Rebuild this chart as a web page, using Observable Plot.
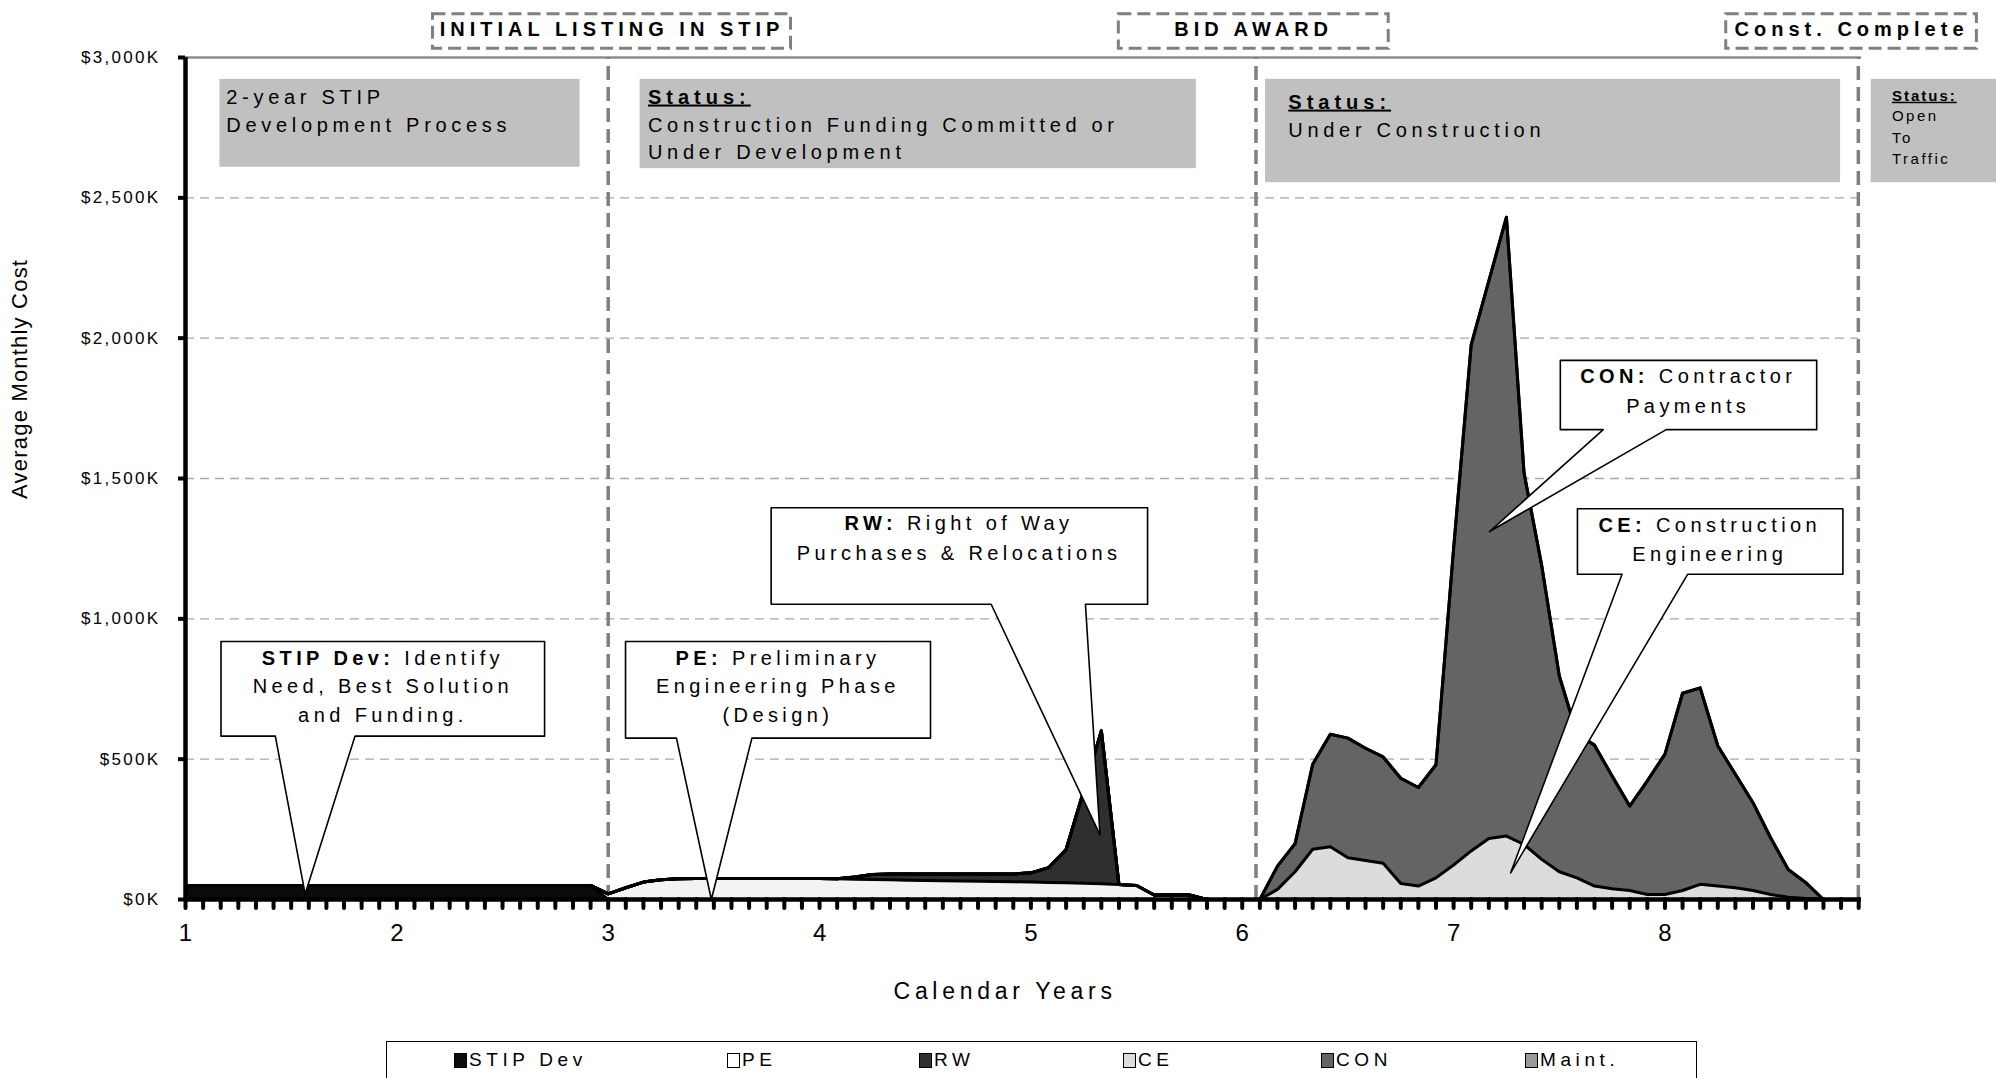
<!DOCTYPE html>
<html>
<head>
<meta charset="utf-8">
<script src="https://cdn.jsdelivr.net/npm/d3@7"></script>
<script src="https://cdn.jsdelivr.net/npm/@observablehq/plot@0.6"></script>
<style>
  html, body { margin: 0; padding: 0; background: #fff; }
  body { width: 1996px; height: 1078px; overflow: hidden; font-family: "Liberation Sans", Arial, sans-serif; }
  #legend { position: relative; width: 1996px; height: 37px; }
  #legend .box { position: absolute; left: 386px; top: 0; width: 1311px; height: 60px; border: 1.5px solid #000; box-sizing: border-box; }
  #legend .item { position: absolute; top: 8px; display: flex; align-items: center; font-size: 19px; letter-spacing: 4.6px; color: #000; }
  #legend .sw { width: 13px; height: 15px; border: 1.5px solid #000; margin-right: 2px; box-sizing: border-box; }
</style>
</head>
<body>
<div id="chart"></div>
<div id="legend"></div>
<script>
// ---------------- DATA (monthly values, $K) ----------------
const seriesNames  = ["STIP Dev", "PE", "RW", "CE", "CON", "Maint."];
const seriesColors = ["#0b0b0b", "#f3f3f3", "#2f2f2f", "#dcdcdc", "#646464", "#9a9a9a"];

// month index 0 = start of calendar year 1; 96 months shown (years 1 .. 8.92)
const monthCount = 96;

const stipDevStart = 0;
const stipDev = [50,50,50,50,50,50,50,50,50,50,50,50,50,50,50,50,50,50,50,50,50,50,50,50,0];

const peStart = 24;
const pe = [20,42,62,70,74,75,75,75,75,75,75,75,75,74,72,71,70,69,68,67,66,65,64,63,62,61,60,58,56,53,50,16,16,16,0];

const rwStart = 37;
const rw = [0,8,18,21,22,23,24,25,26,27,28,33,52,118,330,545,0];

const ceStart = 61;
const ce = [0,36,99,179,188,149,139,129,57,48,77,123,173,217,226,196,143,99,77,48,38,32,18,18,32,54,48,42,32,18,8,4,0];

const conStart = 61;
const con = [0,83,100,303,401,426,400,379,375,351,403,1127,1804,1987,2205,1324,1048,698,513,502,402,301,405,500,703,700,500,404,313,202,99,56,0];

const maintStart = 0;
const maint = []; // no maintenance costs within the period shown

const yTicks = [0, 500, 1000, 1500, 2000, 2500, 3000];
const gridValues = [500, 1000, 1500, 2000, 2500];
const yearLabels = [1, 2, 3, 4, 5, 6, 7, 8];

// milestones (years)
const milestoneX = [3.0, 6.065, 8.915];
const milestoneLabels = ["INITIAL LISTING IN STIP", "BID AWARD", "Const. Complete"];

// ---------------- build table ----------------
const seriesArrays = [stipDev, pe, rw, ce, con, maint];
const seriesStarts = [stipDevStart, peStart, rwStart, ceStart, conStart, maintStart];
const table = [];
seriesNames.forEach((name, s) => {
  const arr = seriesArrays[s], st = seriesStarts[s];
  for (let m = 0; m < monthCount; m++) {
    const i = m - st;
    const v = (i >= 0 && i < arr.length) ? arr[i] : 0;
    table.push({series: name, x: 1 + m / 12, value: v});
  }
});
const monthTicks = d3.range(monthCount).map(m => 1 + m / 12);

// ---------------- annotations (data coordinates: years, $K) ----------------
const phaseBoxes = [
  {x1: 1.163, x2: 2.867, y1: 2609, y2: 2922},
  {x1: 3.151, x2: 5.783, y1: 2604, y2: 2922},
  {x1: 6.110, x2: 8.831, y1: 2554, y2: 2922},
  {x1: 8.976, x2: 9.580, y1: 2554, y2: 2922}
];
const phaseLines = [
  {x: 1.193, y: 2834, text: "2-year STIP"},
  {x: 1.193, y: 2734, text: "Development Process"},
  {x: 3.188, y: 2733, text: "Construction Funding Committed or"},
  {x: 3.188, y: 2637, text: "Under Development"},
  {x: 6.218, y: 2715, text: "Under Construction"}
];
const statusLines = [
  {x: 3.188, y: 2836, text: "Status:"},
  {x: 6.218, y: 2818, text: "Status:"}
];
const openStatus = [{x: 9.074, y: 2846, text: "Status:"}];
const openLines = [
  {x: 9.074, y: 2774, text: "Open"},
  {x: 9.074, y: 2697, text: "To"},
  {x: 9.074, y: 2620, text: "Traffic"}
];
const milestoneBoxes = [
  {x1: 2.171, x2: 3.865, y1: 3031, y2: 3154, tx: 3.018, label: milestoneLabels[0]},
  {x1: 5.416, x2: 6.693, y1: 3031, y2: 3154, tx: 6.054, label: milestoneLabels[1]},
  {x1: 8.290, x2: 9.476, y1: 3031, y2: 3154, tx: 8.883, label: milestoneLabels[2]}
];
const callouts = [
  {id: "stip", x1: 1.168, x2: 2.699, top: 919, bottom: 582, b1: 1.425, b2: 1.802, tx: 1.566, ty: 20},
  {id: "pe",   x1: 3.082, x2: 4.525, top: 919, bottom: 575, b1: 3.323, b2: 3.680, tx: 3.488, ty: 0},
  {id: "rw",   x1: 3.771, x2: 5.552, top: 1396, bottom: 1052, b1: 4.812, b2: 5.258, tx: 5.327, ty: 230},
  {id: "con",  x1: 7.505, x2: 8.718, top: 1921, bottom: 1674, b1: 7.708, b2: 8.006, tx: 7.170, ty: 1311},
  {id: "ce",   x1: 7.586, x2: 8.842, top: 1392, bottom: 1159, b1: 7.797, b2: 8.108, tx: 7.270, ty: 95}
];
const calloutPoly = callouts.flatMap(c => [
  {id: c.id, x: c.x1, y: c.top}, {id: c.id, x: c.x2, y: c.top}, {id: c.id, x: c.x2, y: c.bottom},
  {id: c.id, x: c.b2, y: c.bottom}, {id: c.id, x: c.tx, y: c.ty}, {id: c.id, x: c.b1, y: c.bottom},
  {id: c.id, x: c.x1, y: c.bottom}
]);
const calloutLines = [
  {x: 1.934, y: 836, text: "STIP Dev: Identify"},
  {x: 1.934, y: 735, text: "Need, Best Solution"},
  {x: 1.934, y: 631, text: "and Funding."},
  {x: 3.803, y: 836, text: "PE: Preliminary"},
  {x: 3.803, y: 735, text: "Engineering Phase"},
  {x: 3.803, y: 631, text: "(Design)"},
  {x: 4.660, y: 1316, text: "RW: Right of Way"},
  {x: 4.660, y: 1211, text: "Purchases & Relocations"},
  {x: 8.110, y: 1840, text: "CON: Contractor"},
  {x: 8.110, y: 1735, text: "Payments"},
  {x: 8.212, y: 1311, text: "CE: Construction"},
  {x: 8.212, y: 1207, text: "Engineering"}
];

const fmtK = d => "$" + d3.format(",")(d) + "K";
const FONT = '"Liberation Sans", Arial, sans-serif';

const plot = Plot.plot({
  width: 1996,
  height: 1041,
  marginLeft: 185,
  marginRight: 135,
  marginTop: 57,
  marginBottom: 142,
  x: {domain: [1, 8.93]},
  y: {domain: [0, 3000]},
  color: {domain: seriesNames, range: seriesColors},
  style: {fontFamily: FONT, background: "#fff", overflow: "visible", color: "#000"},
  marks: [
    Plot.rect(phaseBoxes, {x1: "x1", x2: "x2", y1: "y1", y2: "y2", fill: "#c0c0c0"}),
    Plot.ruleY(gridValues, {x1: 1, x2: 8.915, stroke: "#a8a8a8", strokeWidth: 1.3, strokeDasharray: "9,6"}),
    Plot.ruleY([3000], {x1: 1, x2: 8.93, stroke: "#8c8c8c", strokeWidth: 2.5}),
    Plot.ruleX(milestoneX, {y1: 0, y2: 3000, stroke: "#808080", strokeWidth: 3.5, strokeDasharray: "14,7"}),
    Plot.areaY(table, {x: "x", y: "value", z: "series", fill: "series"}),
    Plot.lineY(table, Plot.stackY2({x: "x", y: "value", z: "series", stroke: "#000", strokeWidth: 3, strokeLinejoin: "round"})),
    Plot.ruleX([1], {y1: 0, y2: 3000, stroke: "#000", strokeWidth: 4.5}),
    Plot.ruleY([0], {x1: 1, x2: 8.93, stroke: "#000", strokeWidth: 4.5}),
    Plot.axisX({ticks: monthTicks, tickSize: 9, strokeWidth: 4, strokeLinecap: "round", tickFormat: () => "", label: null}),
    Plot.axisY({ticks: yTicks, tickSize: 7, strokeWidth: 4, tickPadding: 18, tickFormat: fmtK, fontSize: 17, label: null}),
    Plot.text(yearLabels, {x: d => d, y: 0, dy: 24, lineAnchor: "top", text: d => String(d), fontSize: 24}),
    Plot.rect(milestoneBoxes, {x1: "x1", x2: "x2", y1: "y1", y2: "y2", fill: "#fff", stroke: "#808080", strokeWidth: 3, strokeDasharray: "13,6"}),
    Plot.text(milestoneBoxes, {x: "tx", y: 3078, text: "label", lineAnchor: "bottom", fontSize: 20, fontWeight: "bold"}),
    Plot.line(calloutPoly, {x: "x", y: "y", z: "id", fill: "#fff", stroke: "#000", strokeWidth: 1.6, curve: "linear-closed"}),
    Plot.text(calloutLines, {x: "x", y: "y", text: "text", lineAnchor: "bottom", fontSize: 20}),
    Plot.text(phaseLines, {x: "x", y: "y", text: "text", textAnchor: "start", lineAnchor: "bottom", fontSize: 20}),
    Plot.text(statusLines, {x: "x", y: "y", text: "text", textAnchor: "start", lineAnchor: "bottom", fontSize: 20, fontWeight: "bold"}),
    Plot.text(openStatus, {x: "x", y: "y", text: "text", textAnchor: "start", lineAnchor: "bottom", fontSize: 15, fontWeight: "bold"}),
    Plot.text(openLines, {x: "x", y: "y", text: "text", textAnchor: "start", lineAnchor: "bottom", fontSize: 15}),
    Plot.text(["Average Monthly Cost"], {x: 0.216, y: 1855, text: d => d, rotate: -90, fontSize: 22}),
    Plot.text(["Calendar Years"], {x: 4.878, y: -356, text: d => d, lineAnchor: "bottom", fontSize: 23})
  ]
});

// typography tweaks by text content (letter spacing, bold prefixes, underline)
const spacingFor = new Map();
yTicks.forEach(t => spacingFor.set(fmtK(t), "2.3px"));
milestoneLabels.forEach(t => spacingFor.set(t, "5px"));
calloutLines.forEach(d => spacingFor.set(d.text, "4.4px"));
phaseLines.forEach(d => spacingFor.set(d.text, "4.7px"));
openLines.forEach(d => spacingFor.set(d.text, "2.5px"));
spacingFor.set("Status:", "5px");
spacingFor.set("Average Monthly Cost", "1.2px");
spacingFor.set("Calendar Years", "4.7px");
const calloutSet = new Set(calloutLines.map(d => d.text));

d3.select(plot).selectAll("text").each(function () {
  const t = this.textContent;
  const el = d3.select(this);
  if (spacingFor.has(t)) el.attr("letter-spacing", spacingFor.get(t));
  if (t === "Status:") {
    el.attr("text-decoration", "underline");
    if (+(this.getAttribute("font-size") || 0) === 15 || this.parentNode.getAttribute("font-size") === "15") el.attr("letter-spacing", "2px");
  }
  if (calloutSet.has(t)) {
    const i = t.indexOf(":");
    if (i > 0) {
      el.text(null);
      el.append("tspan").attr("font-weight", "bold").text(t.slice(0, i + 1));
      el.append("tspan").text(t.slice(i + 1));
    }
  }
});
document.getElementById("chart").appendChild(plot);

// legend (below the SVG)
const legendLeft = [68, 341, 533, 737, 935, 1139];
const legend = d3.select("#legend");
legend.append("div").attr("class", "box");
seriesNames.forEach((name, i) => {
  const it = legend.append("div").attr("class", "item").style("left", (386 + legendLeft[i]) + "px");
  it.append("div").attr("class", "sw").style("background", seriesColors[i] === "#f3f3f3" ? "#fff" : seriesColors[i]);
  it.append("span").text(name);
});
</script>
</body>
</html>
